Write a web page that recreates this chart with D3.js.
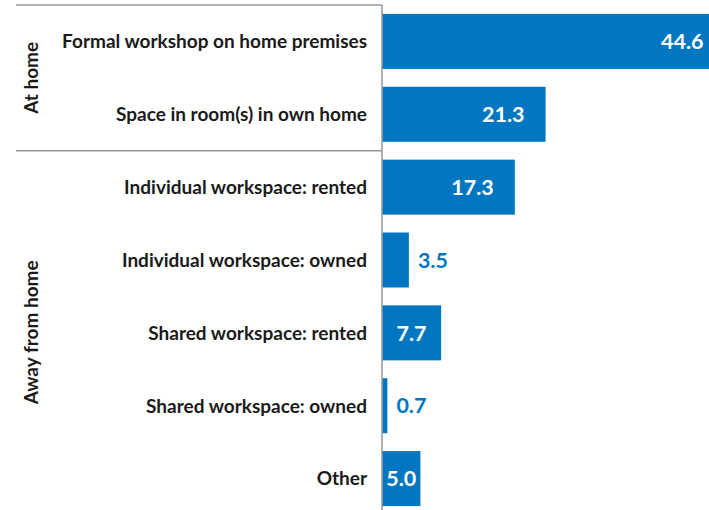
<!DOCTYPE html>
<html>
<head>
<meta charset="utf-8">
<script src="https://cdn.jsdelivr.net/npm/d3@7"></script>
<style>
  body { margin: 0; background: #fff; }
  svg { display: block; }
  .cat-label { font-family: Lato, "Open Sans", sans-serif; font-weight: 700; font-size: 19px; fill: #1a1a1a; }
  .group-label { font-family: Lato, "Open Sans", sans-serif; font-weight: 700; font-size: 19px; fill: #1a1a1a; }
  .val-label { font-family: Lato, "Open Sans", sans-serif; font-weight: 700; font-size: 21.5px; }
</style>
</head>
<body>
<div id="chart"></div>
<script>
// workspace categories, top to bottom
var categories = [
  "Formal workshop on home premises",
  "Space in room(s) in own home",
  "Individual workspace: rented",
  "Individual workspace: owned",
  "Shared workspace: rented",
  "Shared workspace: owned",
  "Other"
];
var values = [44.6, 21.3, 17.3, 3.5, 7.7, 0.7, 5.0];

// side groups: name, first and last category index
var groupNames = ["At home", "Away from home"];
var groupStart = [0, 2];
var groupEnd = [1, 6];

var width = 709, height = 510;
var barColor = "#0077c0";

var svg = d3.select("#chart")
            .append("svg")
            .attr("width", width)
            .attr("height", height);

var axisX = 382;

var x = d3.scaleLinear()
          .domain([0, 50])
          .range([axisX, axisX + 384]);

var y = d3.scaleBand()
          .domain(categories)
          .range([5, 515])
          .paddingInner(0.245)
          .paddingOuter(0.1225);

var data = categories.map(function(c, i){ return {cat: c, value: values[i]}; });

// bars
svg.append("g")
   .attr("class", "bars")
   .selectAll("rect")
   .data(data)
   .enter()
   .append("rect")
   .attr("x", x(0))
   .attr("y", function(d){ return y(d.cat); })
   .attr("width", function(d){ return x(d.value) - x(0); })
   .attr("height", y.bandwidth())
   .attr("fill", barColor);

// value labels: inside white for big bars, outside blue for small ones
svg.append("g")
   .selectAll("text")
   .data(data)
   .enter()
   .append("text")
   .attr("class", "val-label")
   .attr("dy", "0.36em")
   .attr("y", function(d){ return y(d.cat) + y.bandwidth() / 2; })
   .attr("x", function(d){
       var w = x(d.value) - x(0);
       if (w > 60) return x(d.value) - 21;
       if (d.value >= 5) return x(0) + w / 2;
       return x(d.value) + 9;
   })
   .attr("text-anchor", function(d){
       var w = x(d.value) - x(0);
       if (w > 60) return "end";
       if (d.value >= 5) return "middle";
       return "start";
   })
   .attr("fill", function(d){ return d.value >= 5 ? "#fff" : barColor; })
   .text(function(d){ return d3.format(".1f")(d.value); });

// category labels
svg.append("g")
   .selectAll("text")
   .data(data)
   .enter()
   .append("text")
   .attr("class", "cat-label")
   .attr("x", axisX - 15)
   .attr("y", function(d){ return y(d.cat) + y.bandwidth() / 2; })
   .attr("dy", "0.36em")
   .attr("text-anchor", "end")
   .text(function(d){ return d.cat; });

// axis line and group separators
var step = y.step();
var bounds = [y(categories[0]) - step * y.paddingInner() / 2];
groupEnd.forEach(function(e){
    bounds.push(y(categories[e]) + y.bandwidth() + step * y.paddingInner() / 2);
});

svg.append("line")
   .attr("x1", axisX).attr("x2", axisX)
   .attr("y1", bounds[0]).attr("y2", height)
   .attr("stroke", "#999").attr("stroke-width", 1.5);

svg.append("g")
   .selectAll("line")
   .data(bounds.slice(0, 2))
   .enter()
   .append("line")
   .attr("x1", 16).attr("x2", axisX)
   .attr("y1", function(d){ return d; })
   .attr("y2", function(d){ return d; })
   .attr("stroke", "#999").attr("stroke-width", 1.5);

// rotated group labels
svg.append("g")
   .selectAll("text")
   .data(groupNames)
   .enter()
   .append("text")
   .attr("class", "group-label")
   .attr("text-anchor", "middle")
   .attr("transform", function(d, i){
       var top = y(categories[groupStart[i]]);
       var bot = y(categories[groupEnd[i]]) + y.bandwidth();
       var cy = (top + bot) / 2;
       if (i == 1) cy = (bounds[1] + height) / 2 + 2;
       return "translate(38," + cy + ") rotate(-90)";
   })
   .text(function(d){ return d; });
</script>
</body>
</html>
